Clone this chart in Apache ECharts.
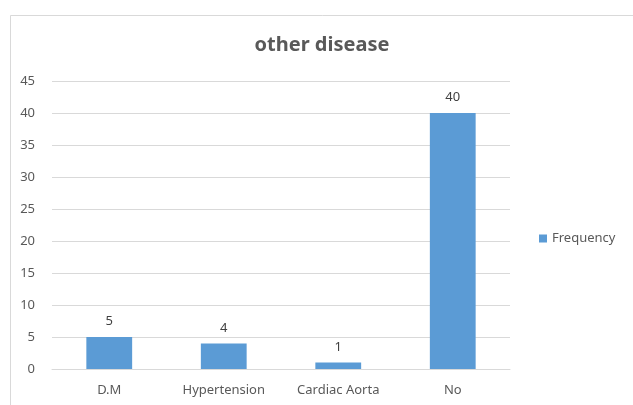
<!DOCTYPE html>
<html><head><meta charset="utf-8">
<script src="https://cdn.jsdelivr.net/npm/echarts@6/dist/echarts.min.js"></script>
<style>html,body{margin:0;padding:0;background:#fff}#c{width:633px;height:405px}</style>
</head><body><div id="c"></div>
<script>
const categories = ['D.M', 'Hypertension', 'Cardiac Aorta', 'No'];
const frequency = [5, 4, 1, 40];
const seriesName = 'Frequency';
const titleText = 'other disease';

const FONT = '"Noto Sans", "Open Sans", sans-serif';
const chart = echarts.init(document.getElementById('c'));
chart.setOption({
  animation: false,
  backgroundColor: '#fff',
  graphic: [{
    type: 'rect', left: 8, top: 13, silent: true,
    shape: { x: 0, y: 0, width: 700, height: 500 },
    style: { fill: 'none', stroke: '#d9d9d9', lineWidth: 1 }
  }],
  title: {
    text: titleText, left: 317, top: 30, textAlign: 'center',
    textStyle: { fontFamily: FONT, fontSize: 20, fontWeight: 'bold', color: '#595959' }
  },
  legend: {
    data: [seriesName], left: 534, top: 227, orient: 'vertical',
    icon: 'rect', itemWidth: 8, itemHeight: 8, itemGap: 5,
    textStyle: { fontFamily: FONT, fontSize: 13, color: '#595959' }
  },
  grid: { left: 52, right: 123, top: 81, bottom: 36, containLabel: false },
  xAxis: {
    type: 'category', data: categories,
    axisLine: { lineStyle: { color: '#d9d9d9' } },
    axisTick: { show: false },
    axisLabel: { fontFamily: FONT, fontSize: 13, color: '#595959', margin: 15 }
  },
  yAxis: {
    type: 'value', min: 0, max: 45, interval: 5,
    axisLine: { show: false }, axisTick: { show: false },
    splitLine: { lineStyle: { color: '#d9d9d9' } },
    axisLabel: { fontFamily: FONT, fontSize: 13, color: '#595959', margin: 17 }
  },
  series: [{
    name: seriesName, type: 'bar', data: frequency, barWidth: '40%',
    itemStyle: { color: '#5b9bd5' },
    label: { show: true, position: 'top', distance: 9, fontFamily: FONT, fontSize: 13, color: '#404040' }
  }]
});
</script></body></html>
